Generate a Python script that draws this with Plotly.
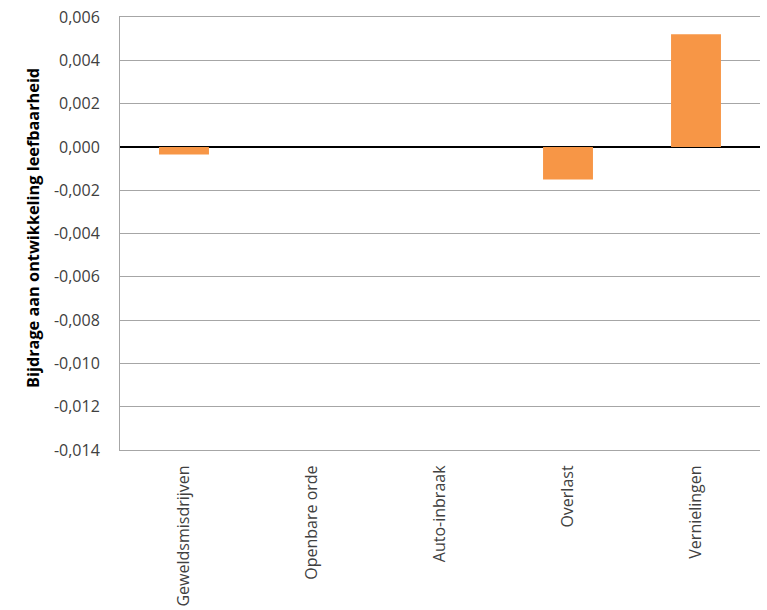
import plotly.graph_objects as go

categories = ["Geweldsmisdrijven", "Openbare orde", "Auto-inbraak", "Overlast", "Vernielingen"]
values = [-0.00035, 0.0, 0.0, -0.0015, 0.0052]
tick_vals = [0.006, 0.004, 0.002, 0.0, -0.002, -0.004, -0.006, -0.008, -0.010, -0.012, -0.014]
tick_text = [("%.3f" % v).replace(".", ",") if v != 0 else "0,000" for v in tick_vals]

fig = go.Figure()
fig.add_trace(go.Bar(x=categories, y=values, marker=dict(color="#F79646", line=dict(width=0)), width=0.39))

fig.update_layout(
    width=767, height=610,
    margin=dict(l=120, r=7, t=17, b=160),
    plot_bgcolor="white", paper_bgcolor="white",
    showlegend=False,
    font=dict(family="Open Sans, sans-serif", size=16, color="#404040"),
)
fig.update_yaxes(
    range=[-0.014, 0.006], tickvals=tick_vals, ticktext=tick_text,
    showgrid=True, gridcolor="#A6A6A6", gridwidth=1,
    zeroline=True, zerolinecolor="black", zerolinewidth=2,
    showline=True, linecolor="#A6A6A6", linewidth=1,
    ticks="", ticklabelstandoff=16, automargin=False,
)
fig.update_xaxes(
    tickangle=-90, showline=True, mirror=True, linecolor="#A6A6A6", linewidth=1,
    ticks="", showgrid=False,
    tickfont=dict(size=16, color="#404040"), ticklabelstandoff=8, automargin=False,
)
fig.add_annotation(
    text="<b>Bijdrage aan ontwikkeling leefbaarheid</b>", textangle=-90,
    xref="paper", yref="paper", x=(20 - 120) / 640, y=(450 - 228) / 433,
    showarrow=False, font=dict(size=16.3, color="black", family="Open Sans, sans-serif"),
)
fig.write_html(
    "out.html",
    config={"displayModeBar": False},
    post_script="document.body.style.margin='0';document.body.style.overflow='hidden';",
)
